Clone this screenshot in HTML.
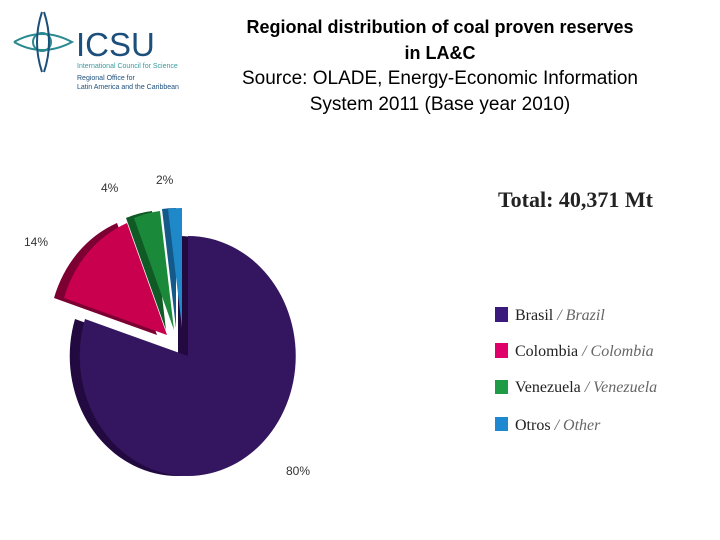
<!DOCTYPE html>
<html><head><meta charset="utf-8"><style>
body{margin:0;width:720px;height:540px;background:#fff;overflow:hidden;position:relative;font-family:"Liberation Sans",sans-serif}
.t{position:absolute;left:200px;width:480px;text-align:center;color:#000}
</style></head><body>
<svg width="720" height="540" style="position:absolute;left:0;top:0">
<g fill="none" stroke="#2a8a8f" stroke-width="2">
<circle cx="42" cy="42" r="9"/>
<path d="M14 42 Q42 26 72 42 Q42 58 14 42"/>
<path d="M42 12 Q32 42 42 72" stroke="#1a4f7a"/>
<path d="M44 12 Q54 42 44 72" stroke="#1a4f7a"/>
</g>
<text x="76" y="56" font-family="Liberation Sans,sans-serif" font-size="33" fill="#1d4f7c">ICSU</text>
<text x="77" y="68" font-family="Liberation Sans,sans-serif" font-size="7" fill="#3a9aa0">International Council for Science</text>
<text x="77" y="80" font-family="Liberation Sans,sans-serif" font-size="7" fill="#1d4f7c">Regional Office for</text>
<text x="77" y="89" font-family="Liberation Sans,sans-serif" font-size="7" fill="#1d4f7c">Latin America and the Caribbean</text>
<path d="M178 356 L178 236 A108 120 0 1 1 75 319 Z" fill="#220a40"/>
<path d="M157 335 L54 298 A108 120 0 0 1 117 223 Z" fill="#7d0033"/>
<path d="M166 330 L126 218 A108 120 0 0 1 152 211 Z" fill="#0f5a25"/>
<path d="M176 328 L162 209 A108 120 0 0 1 176 208 Z" fill="#135a8a"/>
<path d="M188 356 L188 236 A108 120 0 1 1 85 319 Z" fill="#341660"/>
<path d="M167 335 L64 298 A108 120 0 0 1 127 223 Z" fill="#c8004e"/>
<path d="M174 330 L134 218 A108 120 0 0 1 160 211 Z" fill="#1a8a3a"/>
<path d="M182 328 L168 209 A108 120 0 0 1 182 208 Z" fill="#1e88c8"/>
<g font-family="Liberation Sans,sans-serif" font-size="12" fill="#333">
<text x="24" y="246">14%</text>
<text x="101" y="192">4%</text>
<text x="156" y="184">2%</text>
<text x="286" y="475">80%</text>
</g>
<text x="498" y="207" font-family="Liberation Serif,serif" font-size="22" font-weight="bold" fill="#222">Total: 40,371 Mt</text>
<g font-family="Liberation Serif,serif" font-size="16" fill="#222">
<rect x="495" y="307" width="13" height="15" fill="#3a1a7a"/>
<text x="515" y="320">Brasil <tspan fill="#666" font-style="italic">/ Brazil</tspan></text>
<rect x="495" y="343" width="13" height="15" fill="#e0006a"/>
<text x="515" y="356">Colombia <tspan fill="#666" font-style="italic">/ Colombia</tspan></text>
<rect x="495" y="380" width="13" height="14" fill="#1f9a45"/>
<text x="515" y="392">Venezuela <tspan fill="#666" font-style="italic">/ Venezuela</tspan></text>
<rect x="495" y="417" width="13" height="14" fill="#1e88d0"/>
<text x="515" y="430">Otros <tspan fill="#666" font-style="italic">/ Other</tspan></text>
</g>
</svg>
<div class="t" style="top:14px;font-size:18px;font-weight:bold;line-height:26px">Regional distribution of coal proven reserves<br>in LA&amp;C</div>
<div class="t" style="top:66px;font-size:19px;line-height:26px">Source: OLADE, Energy-Economic Information<br>System 2011 (Base year 2010)</div>
</body></html>
